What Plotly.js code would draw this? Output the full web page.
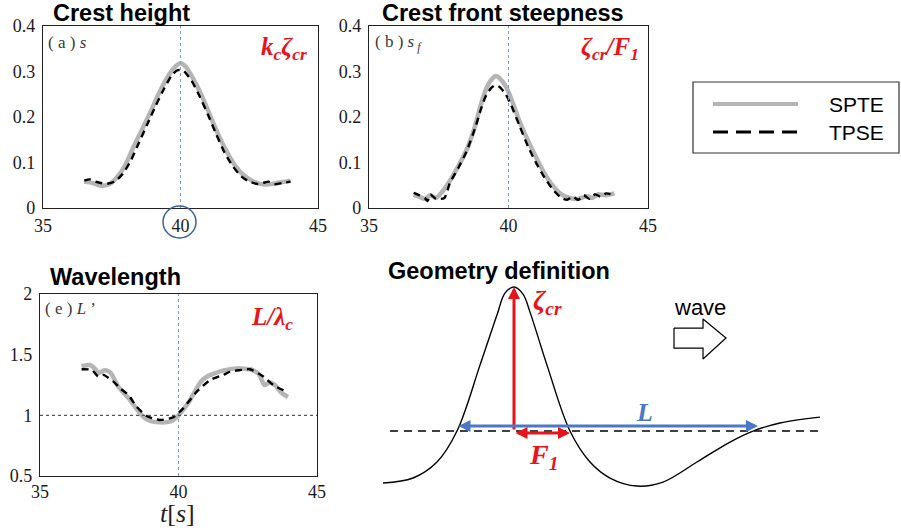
<!DOCTYPE html>
<html><head><meta charset="utf-8">
<script src="https://cdn.plot.ly/plotly-3.0.1.min.js"></script>
<style>html,body{margin:0;padding:0;background:#fff}#chart{width:901px;height:532px}</style>
</head><body><div id="chart"></div>
<script>
// ---- Panel (a) crest height ----
const tA_spte = [36.5,36.8,37.1,37.4,37.7,38.0,38.3,38.6,38.9,39.2,39.5,39.8,40.0,40.2,40.5,40.8,41.1,41.4,41.7,42.0,42.3,42.6,42.9,43.2,43.5,43.8,44.0];
const vA_spte = [0.058,0.055,0.049,0.052,0.068,0.095,0.135,0.172,0.210,0.250,0.285,0.310,0.318,0.310,0.280,0.243,0.200,0.158,0.122,0.092,0.072,0.060,0.053,0.052,0.055,0.058,0.060];
const tA_tpse = [36.5,36.7,36.9,37.1,37.3,37.6,37.9,38.2,38.5,38.8,39.1,39.4,39.7,39.9,40.1,40.4,40.7,41.0,41.3,41.6,41.9,42.2,42.5,42.8,43.0,43.2,43.4,43.7,44.0];
const vA_tpse = [0.060,0.063,0.058,0.055,0.053,0.058,0.075,0.105,0.145,0.185,0.225,0.262,0.293,0.303,0.302,0.280,0.245,0.205,0.162,0.122,0.092,0.070,0.058,0.053,0.055,0.058,0.052,0.055,0.058];
// ---- Panel (b) crest front steepness ----
const tB_spte = [36.6,36.8,37.0,37.2,37.4,37.6,37.9,38.2,38.5,38.8,39.0,39.2,39.4,39.55,39.7,39.9,40.1,40.4,40.7,41.0,41.3,41.6,41.9,42.2,42.5,42.8,43.0,43.2,43.5,43.8];
const vB_spte = [0.029,0.025,0.020,0.028,0.022,0.034,0.060,0.092,0.128,0.180,0.225,0.262,0.283,0.290,0.284,0.268,0.240,0.190,0.148,0.110,0.075,0.048,0.030,0.022,0.020,0.026,0.022,0.030,0.028,0.032];
const tB_tpse = [36.6,36.8,37.0,37.1,37.2,37.4,37.7,37.9,38.2,38.5,38.8,39.0,39.2,39.4,39.55,39.7,39.9,40.1,40.4,40.7,41.0,41.3,41.6,41.9,42.1,42.3,42.5,42.7,42.9,43.1,43.3,43.5,43.8];
const vB_tpse = [0.033,0.028,0.022,0.015,0.030,0.020,0.022,0.055,0.088,0.125,0.175,0.215,0.248,0.265,0.270,0.265,0.250,0.225,0.180,0.135,0.098,0.066,0.040,0.022,0.018,0.025,0.018,0.028,0.020,0.030,0.025,0.032,0.028];
// ---- Panel (e) wavelength ----
const tE_spte = [36.5,36.8,37.0,37.1,37.3,37.5,37.6,37.8,38.0,38.2,38.4,38.6,38.8,39.0,39.3,39.6,39.8,40.0,40.2,40.4,40.6,40.8,41.0,41.3,41.6,42.0,42.3,42.6,42.9,43.1,43.3,43.5,43.7,43.95];
const vE_spte = [1.405,1.415,1.38,1.347,1.37,1.36,1.335,1.245,1.19,1.14,1.08,1.02,0.975,0.952,0.942,0.944,0.96,1.0,1.055,1.12,1.2,1.275,1.315,1.345,1.368,1.385,1.385,1.38,1.34,1.25,1.27,1.245,1.19,1.15];
const tE_tpse = [36.5,36.87,37.1,37.29,37.65,37.89,38.19,38.49,38.85,39.33,39.81,40.17,40.66,41.14,41.62,41.86,42.2,42.58,43.06,43.42,43.9];
const vE_tpse = [1.38,1.374,1.32,1.333,1.278,1.223,1.168,1.071,0.995,0.962,0.984,1.058,1.195,1.291,1.333,1.36,1.372,1.38,1.32,1.25,1.195];
// ---- Tick labels ----
const xTicks = [35,40,45];
const yTicksAB = [0,0.1,0.2,0.3,0.4];
const yTicksE = [0.5,1,1.5,2];
// ---- Geometry schematic (abstract units) ----
const geoX = [0.065,0.717,1.239,1.674,2.174,2.543,2.717,2.913,3.109,3.261,3.630,4.130,4.565,5.0,5.587,6.152,6.891,7.609,8.109,8.696,9.565];
const geoY = [-0.361,-0.326,-0.215,0,0.458,0.806,0.958,1.0,0.951,0.826,0.458,0,-0.215,-0.326,-0.382,-0.354,-0.215,-0.076,0,0.056,0.097];
const baseX = [0.217,9.565];
const baseY = [0,0];
const crestX = 2.913, crestH = 1.0, zeroUpX = 1.674, zeroDownX = 4.130, nextUpX = 8.217;
const hollowX = [6.391,7.022,7.022,7.522,7.022,7.022,6.391,6.391];
const hollowY = [0.715,0.715,0.778,0.646,0.5,0.576,0.576,0.715];

const W = 901, H = 532;
const px = x => x / W, py = y => 1 - y / H;
const GRAY = '#b5b5b5', RED = '#e8141c', BLUE = '#4a78c6';
const tickFont = {family:'Liberation Serif, Times New Roman, serif', size:18, color:'#1a1a1a'};

const spte = (x,y,xa,ya) => ({x, y, xaxis:xa, yaxis:ya, type:'scatter', mode:'lines', name:'SPTE',
  line:{color:GRAY, width:4.5, shape:'spline', smoothing:0.6}, hoverinfo:'skip'});
const tpse = (x,y,xa,ya) => ({x, y, xaxis:xa, yaxis:ya, type:'scatter', mode:'lines', name:'TPSE',
  line:{color:'#000', width:2.4, dash:'7px,5px', shape:'spline', smoothing:0.6}, hoverinfo:'skip'});

const data = [
  spte(tA_spte, vA_spte, 'x', 'y'), tpse(tA_tpse, vA_tpse, 'x', 'y'),
  spte(tB_spte, vB_spte, 'x2', 'y2'), tpse(tB_tpse, vB_tpse, 'x2', 'y2'),
  spte(tE_spte, vE_spte, 'x3', 'y3'), tpse(tE_tpse, vE_tpse, 'x3', 'y3'),
  {x:baseX, y:baseY, xaxis:'x4', yaxis:'y4', mode:'lines', line:{color:'#000', width:1.4, dash:'8px,6px'}, hoverinfo:'skip'},
  {x:geoX, y:geoY, xaxis:'x4', yaxis:'y4', mode:'lines', line:{color:'#000', width:1.4, shape:'spline', smoothing:1}, hoverinfo:'skip'},
  {x:hollowX, y:hollowY, xaxis:'x4', yaxis:'y4', mode:'lines', fill:'toself', fillcolor:'#fff', line:{color:'#000', width:1.2}, hoverinfo:'skip'}
];

const xa = (dom, anchor, standoff) => ({domain:dom, anchor, range:[35,45], tickvals:xTicks, ticks:'', showgrid:false, zeroline:false,
  showline:true, mirror:true, linecolor:'#222', linewidth:1.2, tickfont:tickFont, ticklabelstandoff:standoff});
const ya = (dom, anchor, range, vals) => ({domain:dom, anchor, range, tickvals:vals, ticks:'', showgrid:false, zeroline:false,
  showline:true, mirror:true, linecolor:'#222', linewidth:1.2, tickfont:tickFont, ticklabelstandoff:3});

const layout = {
  width:W, height:H, margin:{l:0,r:0,t:0,b:0}, paper_bgcolor:'#fff', plot_bgcolor:'rgba(0,0,0,0)', showlegend:false,
  xaxis: xa([px(43), px(318)], 'y', 1),
  yaxis: ya([py(208), py(26)], 'x', [0,0.4], yTicksAB),
  xaxis2: xa([px(369), px(648)], 'y2', 1),
  yaxis2: ya([py(208), py(26)], 'x2', [0,0.4], yTicksAB),
  xaxis3: xa([px(40), px(317)], 'y3', -1),
  yaxis3: ya([py(476), py(294)], 'x3', [0.5,2], yTicksE),
  xaxis4: {domain:[px(380), px(840)], anchor:'y4', range:[0,10], visible:false},
  yaxis4: {domain:[py(495), py(280)], anchor:'x4', range:[-0.444,1.049], visible:false},
  shapes: [
    {type:'line', xref:'x', yref:'y domain', x0:40, x1:40, y0:0, y1:1, line:{color:'#7d9bd3', width:1, dash:'dot'}},
    {type:'line', xref:'x2', yref:'y2 domain', x0:40, x1:40, y0:0, y1:1, line:{color:'#7d9bd3', width:1, dash:'dot'}},
    {type:'line', xref:'x3', yref:'y3 domain', x0:40, x1:40, y0:0, y1:1, line:{color:'#7d9bd3', width:1, dash:'dot'}},
    {type:'line', xref:'x3 domain', yref:'y3', x0:0, x1:1, y0:1, y1:1, line:{color:'#555', width:1.2, dash:'dot'}},
    {type:'circle', xref:'paper', yref:'paper', x0:px(163), x1:px(196), y0:py(238), y1:py(206), line:{color:'#3d5fa6', width:1.5}},
    // legend box
    {type:'rect', xref:'paper', yref:'paper', x0:px(693), x1:px(899), y0:py(153), y1:py(82), line:{color:'#333', width:1.2}, fillcolor:'rgba(0,0,0,0)'},
    {type:'line', xref:'paper', yref:'paper', x0:px(713), x1:px(798), y0:py(104), y1:py(104), line:{color:GRAY, width:4}},
    {type:'line', xref:'paper', yref:'paper', x0:px(713), x1:px(798), y0:py(132), y1:py(132), line:{color:'#000', width:3, dash:'15px,8px'}}
  ],
  annotations: []
};

const ann = layout.annotations;
const txt = (x, y, text, font, opts={}) => ann.push(Object.assign({xref:'paper', yref:'paper', x:px(x), y:py(y), text, showarrow:false, font, xanchor:'center', yanchor:'middle'}, opts));
const titleFont = {family:'Liberation Sans, Arial, sans-serif', size:23.5, color:'#000'};
txt(121, 13, '<b>Crest height</b>', titleFont);
txt(503, 13, '<b>Crest front steepness</b>', titleFont);
txt(116, 277, '<b>Wavelength</b>', titleFont);
txt(499, 271, '<b>Geometry definition</b>', titleFont);

const subFont = {family:'Liberation Serif, Times New Roman, serif', size:17, color:'#3a3a3a'};
txt(46, 43, '( a ) <i>s</i>', subFont, {xanchor:'left'});
txt(373, 43, '( b ) <i>s<sub> f</sub></i>', subFont, {xanchor:'left'});
txt(43, 308, '( e ) <i>L</i> ’', subFont, {xanchor:'left'});

const redFont = {family:'Liberation Serif, Times New Roman, serif', size:25, color:RED};
txt(309, 48, '<b><i>k<sub>c</sub>ζ<sub>cr</sub></i></b>', redFont, {xanchor:'right'});
txt(641, 48, '<b><i>ζ<sub>cr</sub>/F<sub>1</sub></i></b>', redFont, {xanchor:'right'});
txt(295, 318, '<b><i>L/λ<sub>c</sub></i></b>', redFont, {xanchor:'right'});

txt(177, 513, '<i>t</i>[<i>s</i>]', {family:'Liberation Serif, Times New Roman, serif', size:26, color:'#222'});

const legFont = {family:'Liberation Sans, Arial, sans-serif', size:21, color:'#000'};
txt(827, 104, 'SPTE', legFont, {xanchor:'left'});
txt(827, 132, 'TPSE', legFont, {xanchor:'left'});

// geometry annotations (data coords of x4/y4)
const g = (o) => ann.push(Object.assign({xref:'x4', yref:'y4', axref:'x4', ayref:'y4', showarrow:true, text:'', arrowhead:2, arrowsize:0.8, standoff:0, startstandoff:0}, o));
g({x:crestX, y:crestH, ax:crestX, ay:0, arrowcolor:RED, arrowwidth:3});
g({x:nextUpX, y:0.035, ax:zeroUpX, ay:0.035, arrowcolor:BLUE, arrowwidth:3, arrowside:'end+start'});
g({x:zeroDownX, y:-0.014, ax:crestX, ay:-0.014, arrowcolor:RED, arrowwidth:3, arrowside:'end+start'});
const gt = (x, y, text, font) => ann.push({xref:'x4', yref:'y4', x, y, text, showarrow:false, font, xanchor:'center', yanchor:'middle'});
gt(3.65, 0.9, '<b><i>ζ<sub>cr</sub></i></b>', {family:'Liberation Serif, serif', size:28, color:RED});
gt(3.55, -0.18, '<b><i>F<sub>1</sub></i></b>', {family:'Liberation Serif, serif', size:28, color:RED});
gt(5.76, 0.13, '<b><i>L</i></b>', {family:'Liberation Serif, serif', size:26, color:BLUE});
gt(6.96, 0.86, 'wave', {family:'Liberation Sans, Arial, sans-serif', size:22, color:'#000'});

Plotly.newPlot('chart', data, layout, {staticPlot:true, displayModeBar:false});
</script></body></html>
